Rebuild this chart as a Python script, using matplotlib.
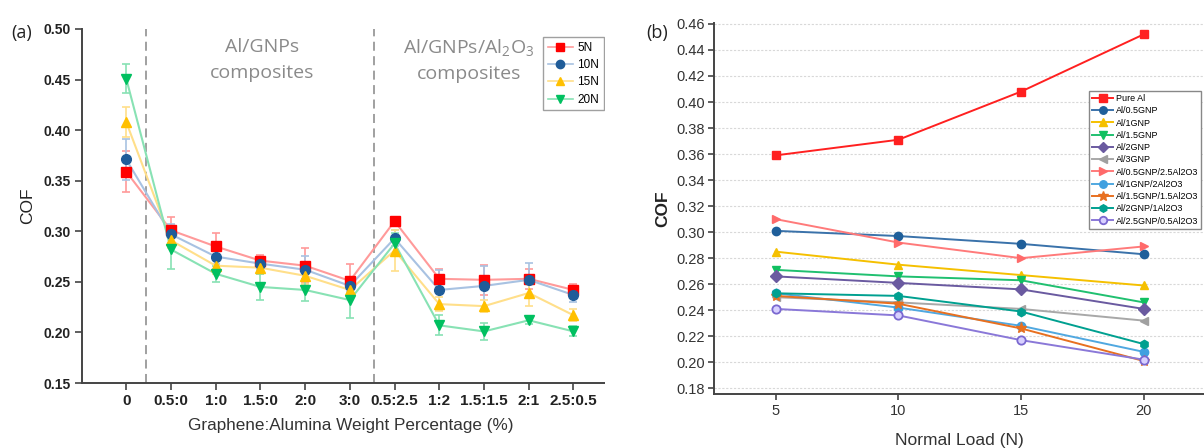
import matplotlib.pyplot as plt
import numpy as np

plt.rcParams['font.family'] = ['Liberation Sans', 'DejaVu Sans']
plt.rcParams['mathtext.default'] = 'regular'

W, H = 1204, 448

# panel (a) data
ratios = ["0", "0.5:0", "1:0", "1.5:0", "2:0", "3:0", "0.5:2.5", "1:2", "1.5:1.5", "2:1", "2.5:0.5"]
loads_a = ["5N", "10N", "15N", "20N"]
cof_5n = [0.359, 0.301, 0.285, 0.271, 0.266, 0.251, 0.310, 0.253, 0.252, 0.253, 0.242]
cof_10n = [0.371, 0.297, 0.275, 0.268, 0.262, 0.246, 0.293, 0.242, 0.246, 0.252, 0.237]
cof_15n = [0.408, 0.291, 0.266, 0.264, 0.256, 0.242, 0.281, 0.228, 0.226, 0.239, 0.217]
cof_20n = [0.451, 0.282, 0.258, 0.245, 0.242, 0.232, 0.288, 0.207, 0.201, 0.212, 0.201]
err_5n = [0.020, 0.013, 0.013, 0.006, 0.017, 0.017, 0.003, 0.010, 0.015, 0.010, 0.006]
err_10n = [0.020, 0.010, 0.007, 0.006, 0.014, 0.006, 0.008, 0.020, 0.020, 0.017, 0.007]
err_15n = [0.015, 0.008, 0.008, 0.006, 0.008, 0.006, 0.020, 0.007, 0.006, 0.013, 0.006]
err_20n = [0.014, 0.019, 0.008, 0.013, 0.011, 0.018, 0.010, 0.010, 0.008, 0.004, 0.005]

# panel (b) data
loads_b = [5, 10, 15, 20]
samples = ["Pure Al", "Al/0.5GNP", "Al/1GNP", "Al/1.5GNP", "Al/2GNP", "Al/3GNP",
           "Al/0.5GNP/2.5Al2O3", "Al/1GNP/2Al2O3", "Al/1.5GNP/1.5Al2O3",
           "Al/2GNP/1Al2O3", "Al/2.5GNP/0.5Al2O3"]
cof_pure = [0.359, 0.371, 0.408, 0.452]
cof_05g = [0.301, 0.297, 0.291, 0.283]
cof_1g = [0.285, 0.275, 0.267, 0.259]
cof_15g = [0.271, 0.266, 0.263, 0.246]
cof_2g = [0.266, 0.261, 0.256, 0.241]
cof_3g = [0.250, 0.246, 0.241, 0.232]
cof_05g25a = [0.310, 0.292, 0.280, 0.289]
cof_1g2a = [0.253, 0.242, 0.228, 0.208]
cof_15g15a = [0.251, 0.245, 0.226, 0.201]
cof_2g1a = [0.253, 0.251, 0.239, 0.214]
cof_25g05a = [0.241, 0.236, 0.217, 0.202]

fig = plt.figure(figsize=(W / 100, H / 100), dpi=100)

def px(l, t, r, b):
    return [l / W, 1 - b / H, (r - l) / W, (b - t) / H]

# ---------- (a) ----------
ax1 = fig.add_axes(px(81.5, 29, 620, 383))
ax1.set_zorder(0)
x = np.arange(len(ratios))
styles_a = [("#ff0000", "#ff9a9a", "s"), ("#1f5c99", "#a8c2e2", "o"),
            ("#ffc000", "#ffdf8a", "^"), ("#00c060", "#88e2b4", "v")]
for vals, errs, lab, (mc, lc, mk) in zip([cof_5n, cof_10n, cof_15n, cof_20n],
                                         [err_5n, err_10n, err_15n, err_20n],
                                         loads_a, styles_a):
    ax1.errorbar(x, vals, yerr=errs, fmt="none", ecolor=lc, elinewidth=1.2,
                 capsize=3, capthick=1.2, zorder=2)
    ax1.plot(x, vals, color=lc, lw=1.5, zorder=3)
    ax1.plot(x, vals, ls="none", marker=mk, ms=7, mfc=mc, mec=mc, zorder=4)
    ax1.plot([], [], color=lc, lw=1.2, marker=mk, ms=6, mfc=mc, mec=mc, label=lab)

ax1.axvline(0.45, color="#999999", ls=(0, (5, 3)), lw=1.3, zorder=1)
ax1.axvline(5.55, color="#999999", ls=(0, (5, 3)), lw=1.3, zorder=1)
ax1.set_xlim(-1, 11.04)
ax1.set_ylim(0.15, 0.50)
ax1.set_xticks(x)
ax1.set_xticklabels(ratios, fontsize=11, fontweight="bold", color="#222222")
ax1.set_yticks(np.arange(0.15, 0.501, 0.05))
ax1.set_yticklabels([f"{v:.2f}" for v in np.arange(0.15, 0.501, 0.05)],
                    fontsize=10, fontweight="bold", color="#222222")
ax1.tick_params(direction="out", length=5, width=1.2, color="#444444", pad=3)
for s in ["top", "right"]:
    ax1.spines[s].set_visible(False)
for s in ["left", "bottom"]:
    ax1.spines[s].set_linewidth(1.4)
    ax1.spines[s].set_color("#444444")
ax1.set_ylabel("COF", fontsize=12.5, color="#222222", labelpad=6)
ax1.set_xlabel("Graphene:Alumina Weight Percentage (%)", fontsize=12.3,
               color="#333333", labelpad=7)
ax1.text(262 / W, 1 - 60 / H, "Al/GNPs\ncomposites", transform=fig.transFigure,
         ha="center", va="center", fontsize=14, color="#8a8a8a",
         family="Open Sans", linespacing=1.5)
ax1.text(469 / W, 1 - 60 / H, "Al/GNPs/Al$_2$O$_3$\ncomposites", transform=fig.transFigure,
         ha="center", va="center", fontsize=14, color="#8a8a8a",
         family="Open Sans", linespacing=1.5)
fig.text(22 / W, 1 - 33 / H, "(a)", fontsize=13, ha="center", va="center",
         family="Open Sans", color="#222222")
ax1.legend(loc="upper left", bbox_to_anchor=(543 / W, 1 - 37 / H),
           bbox_transform=fig.transFigure, borderaxespad=0, fontsize=8.5,
           handlelength=2.1, labelspacing=0.45, handletextpad=0.4,
           borderpad=0.4, frameon=True, fancybox=False, edgecolor="#888888")

# white cover so panel (a) looks cropped
bg = fig.add_axes(px(605, 0, 1204, 448))
bg.set_zorder(1)
bg.set_facecolor("white")
bg.set_xticks([])
bg.set_yticks([])
for s in bg.spines.values():
    s.set_visible(False)

# ---------- (b) ----------
ax2 = fig.add_axes(px(714.3, 23.3, 1205, 394))
ax2.set_zorder(2)
ax2.patch.set_alpha(0)
series_b = [cof_pure, cof_05g, cof_1g, cof_15g, cof_2g, cof_3g,
            cof_05g25a, cof_1g2a, cof_15g15a, cof_2g1a, cof_25g05a]
styles_b = [("#ff2020", "s", "#ff2020"), ("#1f5f9a", "o", "#3a72aa"),
            ("#f5c000", "^", "#f5c000"), ("#10c060", "v", "#20c070"),
            ("#6a5aa0", "D", "#6a5aa0"), ("#a0a0a0", "<", "#a8a8a8"),
            ("#ff6a6a", ">", "#ff7a7a"), ("#40a0e0", "o", "#50a8e0"),
            ("#e87020", "*", "#e87020"), ("#00a090", "h", "#00a090"),
            ("#7a68d0", "o", "#8a78d8")]
for vals, lab, (mc, mk, lc) in zip(series_b, samples, styles_b):
    if lab == "Al/2.5GNP/0.5Al2O3":
        ax2.plot(loads_b, vals, color=lc, lw=1.4, marker=mk, ms=6,
                 mfc="#d8d0ff", mec=mc, mew=1.3, label=lab)
    else:
        ms = 8 if mk == "*" else 6
        ax2.plot(loads_b, vals, color=lc, lw=1.4, marker=mk, ms=ms,
                 mfc=mc, mec=mc, label=lab)

ax2.set_xlim(2.5, 22.5)
ax2.set_ylim(0.1756, 0.4605)
ax2.set_xticks(loads_b)
ax2.set_yticks(np.arange(0.18, 0.461, 0.02))
ax2.set_yticklabels([f"{v:.2f}" for v in np.arange(0.18, 0.461, 0.02)],
                    fontsize=10.5, color="#333333")
ax2.set_xticklabels([str(v) for v in loads_b], fontsize=10.5, color="#333333")
ax2.yaxis.grid(True, ls=(0, (2, 1.5)), color="#d8d8d8", lw=0.8)
ax2.set_axisbelow(True)
ax2.tick_params(direction="out", length=4, width=1.2, color="#444444", pad=3)
for s in ["top", "right"]:
    ax2.spines[s].set_visible(False)
for s in ["left", "bottom"]:
    ax2.spines[s].set_linewidth(1.4)
    ax2.spines[s].set_color("#444444")
ax2.set_ylabel("COF", fontsize=12.5, color="#222222", fontweight="bold", labelpad=4)
ax2.set_xlabel("Normal Load (N)", fontsize=12.5, color="#333333", labelpad=11)
fig.text(657 / W, 1 - 33 / H, "(b)", fontsize=13, ha="center", va="center",
         family="Open Sans", color="#222222")
ax2.legend(loc="upper left", bbox_to_anchor=(1089 / W, 1 - 91 / H),
           bbox_transform=fig.transFigure, borderaxespad=0, fontsize=6.5,
           handlelength=2.3, labelspacing=0.36, handletextpad=0.3,
           borderpad=0.35, frameon=True, fancybox=False, edgecolor="#888888",
           framealpha=1, markerscale=0.9)

fig.savefig("out.png", dpi=100)
